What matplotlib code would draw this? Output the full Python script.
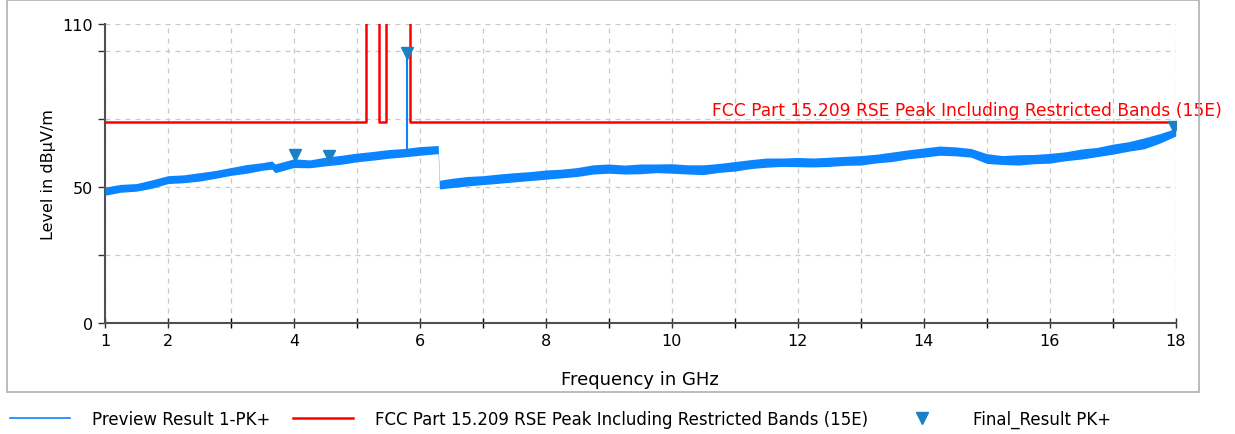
import matplotlib
matplotlib.use('Agg')
import matplotlib.pyplot as plt
from matplotlib.patches import Rectangle
from matplotlib.transforms import blended_transform_factory

# preview trace (band: lower / upper edge, dBuV/m)
freq = [1.0, 1.25, 1.5, 1.75, 2.0, 2.25, 2.5, 2.75, 3.0, 3.25, 3.5, 3.65, 3.7,
        4.0, 4.25, 4.5, 4.75, 5.0, 5.25, 5.5, 5.75, 6.0, 6.29, 6.31, 6.5, 6.75,
        7.0, 7.25, 7.5, 7.75, 8.0, 8.25, 8.5, 8.75, 9.0, 9.25, 9.5, 9.75, 10.0,
        10.25, 10.5, 10.75, 11.0, 11.25, 11.5, 11.75, 12.0, 12.25, 12.5, 12.75,
        13.0, 13.25, 13.5, 13.75, 14.0, 14.25, 14.5, 14.75, 15.0, 15.25, 15.5,
        15.75, 16.0, 16.25, 16.5, 16.75, 17.0, 17.25, 17.5, 17.75, 18.0]
trace_hi = [50.0, 51.0, 51.3, 52.7, 54.2, 54.5, 55.3, 56.1, 57.2, 58.3, 59.0, 59.6, 58.5,
            60.4, 60.0, 61.0, 61.7, 62.5, 63.1, 63.8, 64.2, 64.9, 65.3, 52.5, 53.2, 53.9,
            54.2, 54.8, 55.3, 55.7, 56.3, 56.6, 57.2, 58.2, 58.5, 58.1, 58.5, 58.5, 58.6,
            58.2, 58.2, 58.7, 59.4, 60.1, 60.7, 60.7, 60.9, 60.7, 61.0, 61.3,
            61.6, 62.1, 62.9, 63.7, 64.4, 65.1, 64.8, 64.2, 62.3, 61.6, 61.9,
            62.0, 62.4, 63.0, 64.0, 64.6, 65.8, 66.7, 68.1, 69.7, 71.6]
trace_lo = [47.0, 48.1, 48.5, 49.6, 51.3, 51.6, 52.2, 53.2, 54.3, 55.1, 56.2, 56.6, 55.3,
            57.2, 57.1, 57.8, 58.4, 59.3, 59.9, 60.6, 61.1, 61.7, 62.3, 49.3, 49.8, 50.4,
            50.9, 51.4, 51.9, 52.4, 52.9, 53.4, 53.9, 54.8, 55.1, 54.8, 54.9, 55.3, 55.1,
            54.8, 54.6, 55.4, 55.9, 56.8, 57.3, 57.6, 57.5, 57.4, 57.6, 58.0,
            58.1, 58.9, 59.4, 60.4, 61.0, 61.7, 61.5, 61.0, 58.7, 58.3, 58.1,
            58.6, 58.8, 59.7, 60.3, 61.2, 62.1, 63.2, 64.1, 66.2, 68.8]

# narrow spike in the trace
spike_freq = 5.79
spike_base = 62.4
spike_peak = 99.3

# limit line (restricted bands go off the chart)
limit_freq = [1.0, 5.15, 5.15, 5.35, 5.35, 5.46, 5.46, 5.84, 5.84, 18.0]
limit_level = [74, 74, 500, 500, 74, 74, 500, 500, 74, 74]
limit_name = 'FCC Part 15.209 RSE Peak Including Restricted Bands (15E)'

# final results
final_freq = [4.02, 4.55, 5.79, 17.98]
final_level = [61.8, 61.6, 99.3, 72.2]

blue = '#0a84ff'
red = '#ff0000'
mk = '#1b80c4'

plt.rcParams['font.family'] = ['DejaVu Sans']
fig = plt.figure(figsize=(12.35, 4.35), dpi=100)
ax = fig.add_axes([0.085, 0.2552, 0.867, 0.6873])

# outer frame
fig.patches.append(Rectangle((7 / 1235, 42 / 435), 1192 / 1235, 392 / 435,
                             transform=fig.transFigure, fill=False,
                             edgecolor='#b0b0b0', linewidth=1.2))

ax.fill_between(freq, trace_lo, trace_hi, color=blue, linewidth=0, zorder=3)
ax.vlines(spike_freq, spike_base, spike_peak, color=blue, linewidth=1.5, zorder=3)
ln_prev, = ax.plot([], [], color=blue, linewidth=1.2, label='Preview Result 1-PK+')
ln_lim, = ax.plot(limit_freq, limit_level, color=red, linewidth=1.8, zorder=4,
                  label=limit_name)
ln_fin, = ax.plot(final_freq, final_level, linestyle='none', marker='v',
                  markersize=8, color=mk, zorder=5, label='Final_Result PK+')

trans = blended_transform_factory(ax.transAxes, ax.transData)
ax.text(1.043, 75.0, limit_name, transform=trans, ha='right', va='bottom',
        color=red, fontsize=12.3, clip_on=False)

ax.set_xlim(1, 18)
ax.set_ylim(0, 110)
ax.set_xticks([1, 2, 4, 6, 8, 10, 12, 14, 16, 18])
ax.set_xticks([3, 5, 7, 9, 11, 13, 15, 17], minor=True)
ax.set_yticks([0, 25, 50, 75, 100, 110])
ax.set_yticklabels(['0', '', '50', '', '', '110'])
ax.tick_params(axis='both', labelsize=11.5, color='#303030', length=5, width=1)
ax.tick_params(axis='x', which='both', direction='inout', length=7)
ax.tick_params(axis='x', which='minor', width=1)
ax.grid(True, which='both', linestyle=(0, (4, 4)), color='#c8c8c8', linewidth=0.9)
ax.set_axisbelow(True)
for s in ['top', 'right']:
    ax.spines[s].set_visible(False)
for s in ['left', 'bottom']:
    ax.spines[s].set_color('#505050')
    ax.spines[s].set_linewidth(1.5)

ax.set_xlabel('Frequency in GHz', fontsize=13, labelpad=16)
ax.set_ylabel('Level in dBµV/m', fontsize=11.5, labelpad=5)

fig.legend(handles=[ln_prev, ln_lim, ln_fin], loc='lower left',
           bbox_to_anchor=(0.0, -0.01), ncol=3, frameon=False, fontsize=12,
           handlelength=3.6, handletextpad=1.3, columnspacing=1.4,
           borderaxespad=0.2)

fig.savefig('out.png', dpi=100)
